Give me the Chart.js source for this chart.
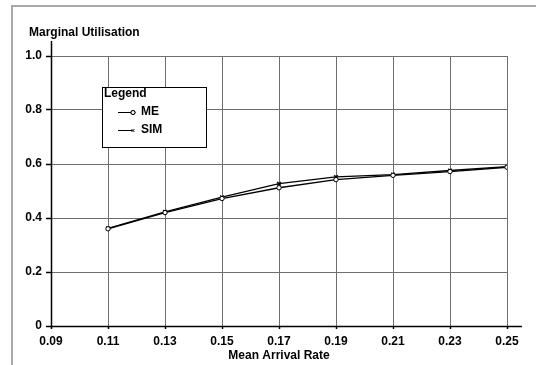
<!DOCTYPE html>
<html>
<head>
<meta charset="utf-8">
<script src="https://cdn.jsdelivr.net/npm/chart.js@4/dist/chart.umd.min.js"></script>
<style>
  html, body { margin: 0; padding: 0; background: #fff; }
  #wrap { position: relative; width: 536px; height: 365px; }
</style>
</head>
<body>
<div id="wrap"><canvas id="marginalUtil"></canvas></div>
<script>
const arrivalRates = [0.11, 0.13, 0.15, 0.17, 0.19, 0.21, 0.23, 0.25];
const meValues = [0.360, 0.420, 0.472, 0.512, 0.542, 0.558, 0.572, 0.588];
const simValues = [0.362, 0.423, 0.477, 0.527, 0.552, 0.561, 0.576, 0.590];
const seriesNames = ['ME', 'SIM'];
const yAxisTitle = 'Marginal Utilisation';
const xAxisTitle = 'Mean Arrival Rate';
const legendTitle = 'Legend';

const FONT = '"Liberation Sans", Arial, sans-serif';

// frame, axis lines, y title and boxed legend
const decorations = {
  id: 'decorations',
  beforeDraw(chart) {
    const ctx = chart.ctx;
    ctx.save();
    ctx.fillStyle = '#a8a8a8';
    ctx.fillRect(11, 5, 525, 2);
    ctx.fillRect(11, 5, 2, 360);
    ctx.restore();
  },
  afterDraw(chart) {
    const ctx = chart.ctx;
    const xs = chart.scales.x, ys = chart.scales.y;
    const x0 = Math.round(xs.getPixelForValue(0.09)) + 0.5;
    const y0 = Math.round(ys.getPixelForValue(0)) + 0.5;
    ctx.save();
    ctx.strokeStyle = '#000';
    ctx.lineWidth = 1.5;
    ctx.beginPath();
    ctx.moveTo(x0, 41);
    ctx.lineTo(x0, y0);
    ctx.lineTo(522, y0);
    ctx.stroke();

    ctx.fillStyle = '#000';
    ctx.font = 'bold 12px ' + FONT;
    ctx.textBaseline = 'alphabetic';
    ctx.textAlign = 'left';
    ctx.fillText(yAxisTitle, 29, 36);

    // legend box
    const bx = 102.5, by = 87.5, bw = 104, bh = 60;
    ctx.fillStyle = '#fff';
    ctx.fillRect(bx, by, bw, bh);
    ctx.lineWidth = 1;
    ctx.strokeRect(bx, by, bw, bh);
    ctx.fillStyle = '#000';
    ctx.textBaseline = 'middle';
    ctx.fillText(legendTitle, 104, 94);
    const rows = [112, 130];
    const styles = ['circle', 'crossRot'];
    rows.forEach((ry, i) => {
      ctx.beginPath();
      ctx.lineWidth = 1;
      ctx.moveTo(118, ry + 0.5);
      ctx.lineTo(132, ry + 0.5);
      ctx.stroke();
      Chart.helpers.drawPoint(ctx, {pointStyle: styles[i], radius: 2, borderWidth: 1}, 133, ry + 0.5);
      if (styles[i] === 'circle') {
        ctx.fillStyle = '#fff';
        ctx.fill();
        ctx.stroke();
        ctx.fillStyle = '#000';
      }
      ctx.fillText(seriesNames[i], 141, ry);
    });
    ctx.restore();
  }
};

const dataMarginal = {
  datasets: [
    {
      label: seriesNames[0],
      data: arrivalRates.map((x, i) => ({x: x, y: meValues[i]})),
      borderColor: '#000',
      borderWidth: 1.3,
      pointStyle: 'circle',
      pointRadius: 2.2,
      pointBackgroundColor: '#fff',
      pointBorderColor: '#000',
      pointBorderWidth: 1,
      tension: 0
    },
    {
      label: seriesNames[1],
      data: arrivalRates.map((x, i) => ({x: x, y: simValues[i]})),
      borderColor: '#000',
      borderWidth: 1.3,
      pointStyle: 'crossRot',
      pointRadius: 2.5,
      pointBorderColor: '#000',
      pointBorderWidth: 1.5,
      tension: 0
    }
  ]
};

const configMarginal = {
  type: 'line',
  data: dataMarginal,
  options: {
    responsive: false,
    animation: false,
    devicePixelRatio: 1,
    layout: { padding: { left: 0, right: 29, top: 56, bottom: 0 } },
    plugins: {
      legend: { display: false },
      tooltip: { enabled: false }
    },
    scales: {
      x: {
        type: 'linear',
        min: 0.09,
        max: 0.25,
        border: { display: false },
        grid: {
          color: (c) => c.tick && Math.abs(c.tick.value - 0.09) < 1e-6 ? 'rgba(0,0,0,0)' : '#6e6e6e',
          borderDash: [2, 2],
          tickLength: 3,
          tickColor: '#000',
          tickBorderDash: [],
          tickWidth: 1.5
        },
        ticks: {
          stepSize: 0.02,
          padding: 5,
          maxRotation: 0,
          color: '#000',
          font: { family: FONT, size: 12, weight: 'bold' },
          callback: (v) => v.toFixed(2)
        },
        title: {
          display: true,
          text: xAxisTitle,
          color: '#000',
          padding: { top: 0, bottom: 2 },
          font: { family: FONT, size: 12, weight: 'bold' }
        },
        afterFit: (s) => { s.height = 39; }
      },
      y: {
        min: 0,
        max: 1,
        border: { display: false },
        grid: {
          color: (c) => c.tick && c.tick.value === 0 ? 'rgba(0,0,0,0)' : '#6e6e6e',
          borderDash: [2, 2],
          tickLength: 5,
          tickColor: '#000',
          tickBorderDash: [],
          tickWidth: 1.5
        },
        ticks: {
          stepSize: 0.2,
          padding: 4,
          color: '#000',
          font: { family: FONT, size: 12, weight: 'bold' },
          callback: (v) => v === 0 ? '0' : v.toFixed(1)
        },
        afterFit: (s) => { s.width = 51; }
      }
    }
  },
  plugins: [decorations]
};

const canvas = document.getElementById('marginalUtil');
canvas.width = 536;
canvas.height = 365;
let marginalGraph = new Chart(canvas, configMarginal);
</script>
</body>
</html>
